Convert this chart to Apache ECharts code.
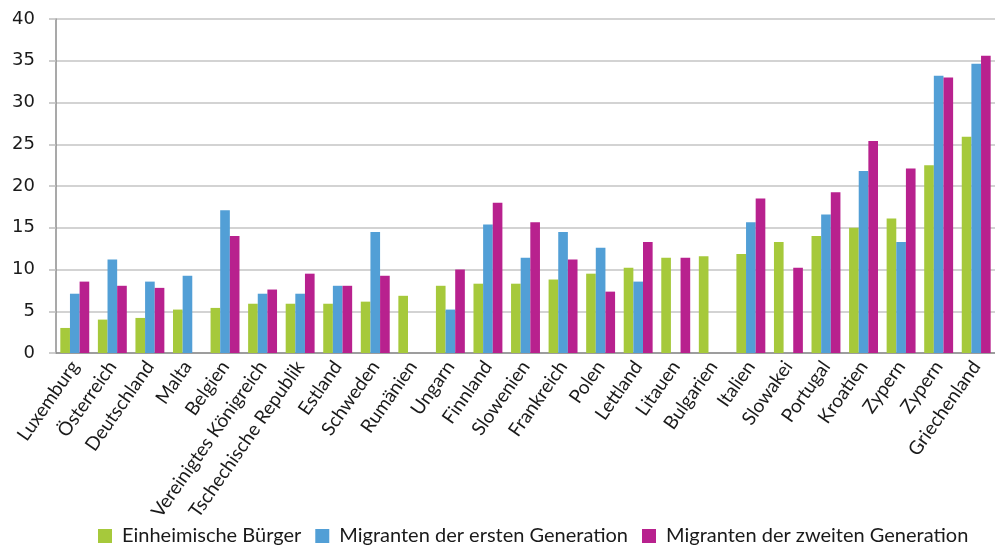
<!DOCTYPE html>
<html>
<head>
<meta charset="utf-8">
<script src="https://cdn.jsdelivr.net/npm/echarts@6/dist/echarts.min.js"></script>
<style>
  html, body { margin: 0; padding: 0; background: #fff; }
  #chart { width: 995px; height: 545px; }
</style>
</head>
<body>
<div id="chart"></div>
<script>
// Länder (Kategorien der x-Achse)
const countries = [
  'Luxemburg', 'Österreich', 'Deutschland', 'Malta', 'Belgien',
  'Vereinigtes Königreich', 'Tschechische Republik', 'Estland', 'Schweden', 'Rumänien',
  'Ungarn', 'Finnland', 'Slowenien', 'Frankreich', 'Polen',
  'Lettland', 'Litauen', 'Bulgarien', 'Italien', 'Slowakei',
  'Portugal', 'Kroatien', 'Zypern', 'Zypern', 'Griechenland'
];

// Werte je Gruppe (null = kein Wert)
const einheimische = [
  3.0, 4.0, 4.2, 5.2, 5.4,
  5.9, 5.9, 5.9, 6.15, 6.85,
  8.05, 8.3, 8.3, 8.8, 9.5,
  10.2, 11.4, 11.6, 11.85, 13.3,
  14.0, 15.0, 16.1, 22.5, 25.9
];
const ersteGeneration = [
  7.1, 11.2, 8.55, 9.25, 17.1,
  7.1, 7.1, 8.05, 14.5, null,
  5.2, 15.4, 11.4, 14.5, 12.6,
  8.55, null, null, 15.65, null,
  16.6, 21.8, 13.3, 33.2, 34.65
];
const zweiteGeneration = [
  8.55, 8.05, 7.8, null, 14.0,
  7.6, 9.5, 8.05, 9.25, null,
  10.0, 18.0, 15.65, 11.2, 7.35,
  13.3, 11.4, null, 18.5, 10.2,
  19.25, 25.4, 22.1, 33.0, 35.6
];

// y-Achse
const yMin = 0, yMax = 40, yStep = 5;

const seriesNames = [
  'Einheimische Bürger',
  'Migranten der ersten Generation',
  'Migranten der zweiten Generation'
];
const colors = ['#A6C93B', '#529FD6', '#B8218E'];
const seriesData = [einheimische, ersteGeneration, zweiteGeneration];

const chart = echarts.init(document.getElementById('chart'), null, { renderer: 'canvas' });

const labelFont = 'Lato, "Open Sans", sans-serif';

chart.setOption({
  animation: false,
  color: colors,
  grid: { left: 56, right: -9, top: 19, bottom: 192, containLabel: false },
  legend: {
    top: 526,
    left: 98,
    padding: 0,
    itemWidth: 14,
    itemHeight: 14,
    itemGap: 14,
    icon: 'rect',
    textStyle: { fontFamily: labelFont, fontSize: 20, color: '#1a1a1a', padding: [0, 0, 0, 5] },
    data: seriesNames
  },
  xAxis: {
    type: 'category',
    data: countries,
    axisLine: { lineStyle: { color: '#8c8c8c', width: 1.5 } },
    axisTick: { show: false },
    axisLabel: {
      interval: 0,
      rotate: 55,
      margin: 10,
      fontFamily: labelFont,
      fontSize: 19,
      color: '#1a1a1a'
    }
  },
  yAxis: {
    type: 'value',
    min: yMin,
    max: yMax,
    interval: yStep,
    axisLine: { show: true, lineStyle: { color: '#8c8c8c', width: 1.5 } },
    axisTick: { show: true, length: 7, lineStyle: { color: '#bdbdbd', width: 1.5 } },
    axisLabel: {
      margin: 21,
      fontFamily: '"DejaVu Sans", Verdana, sans-serif',
      fontSize: 18,
      color: '#1a1a1a'
    },
    splitLine: { lineStyle: { color: '#c4c4c4', width: 1.5 } }
  },
  series: seriesNames.map((name, i) => ({
    name: name,
    type: 'bar',
    data: seriesData[i],
    barGap: '0%',
    barCategoryGap: '23%',
    itemStyle: { color: colors[i] }
  }))
});
</script>
</body>
</html>
